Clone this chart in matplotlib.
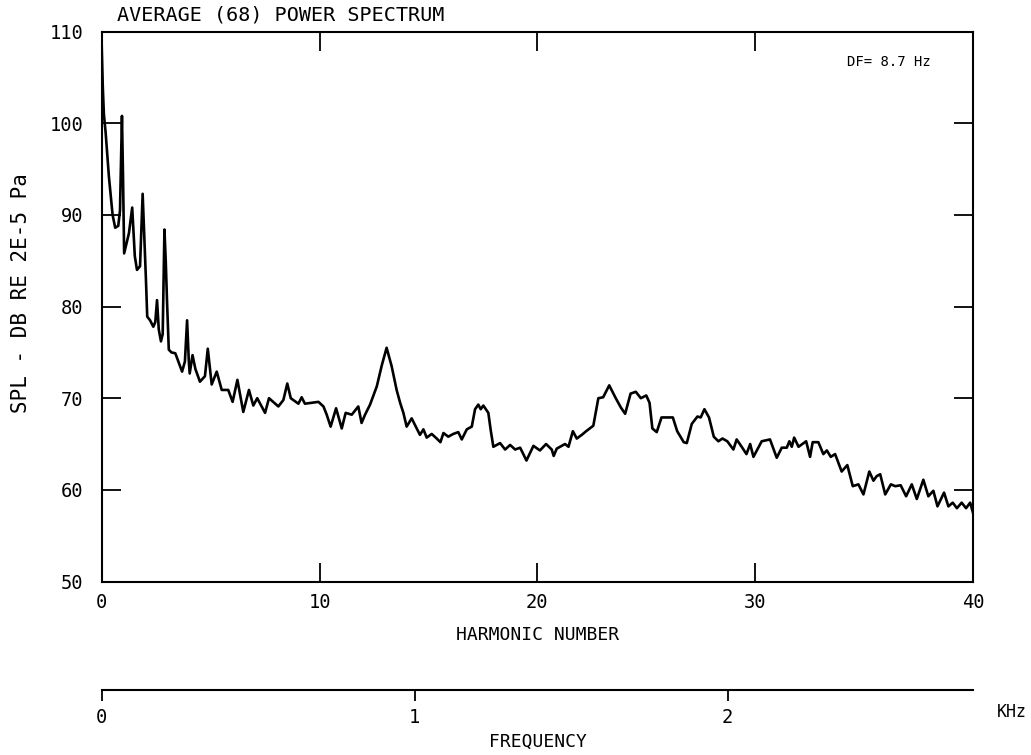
import numpy as np
import matplotlib.pyplot as plt

# Averaged power spectrum (harmonic number, SPL in dB)
harmonic = [
    0.00, 0.05, 0.10, 0.18, 0.33, 0.50, 0.62, 0.76, 0.84, 0.93, 0.98, 1.03,
    1.10, 1.25, 1.40, 1.52, 1.62, 1.76, 1.88, 1.95, 2.03, 2.09, 2.22, 2.37,
    2.46, 2.54, 2.62, 2.72, 2.80, 2.88, 2.94, 3.00, 3.08, 3.20, 3.38, 3.55,
    3.69, 3.82, 3.92, 4.00, 4.04, 4.17, 4.30, 4.51, 4.74, 4.87, 5.05, 5.28,
    5.51, 5.81, 6.01, 6.23, 6.50, 6.76, 6.96, 7.14, 7.50, 7.68, 8.11, 8.34,
    8.52, 8.68, 9.03, 9.18, 9.33, 9.95, 10.18, 10.33, 10.51, 10.76, 11.02, 11.20,
    11.48, 11.78, 11.93, 12.09, 12.32, 12.63, 12.86, 13.08, 13.31, 13.54, 13.70, 13.85,
    14.00, 14.23, 14.46, 14.61, 14.77, 14.92, 15.15, 15.38, 15.55, 15.69, 15.91, 16.14,
    16.37, 16.53, 16.76, 16.99, 17.14, 17.29, 17.40, 17.52, 17.75, 17.86, 17.98, 18.29,
    18.52, 18.75, 18.98, 19.21, 19.50, 19.82, 20.12, 20.40, 20.66, 20.75, 20.89, 21.27,
    21.43, 21.63, 21.81, 22.04, 22.24, 22.57, 22.80, 23.02, 23.30, 23.60, 23.83, 24.03,
    24.28, 24.52, 24.75, 25.00, 25.15, 25.28, 25.48, 25.70, 25.95, 26.22, 26.42, 26.72,
    26.86, 27.09, 27.35, 27.50, 27.67, 27.88, 28.10, 28.31, 28.50, 28.72, 29.00, 29.15,
    29.38, 29.60, 29.77, 29.92, 30.30, 30.68, 30.99, 31.22, 31.45, 31.57, 31.68, 31.79,
    31.99, 32.34, 32.52, 32.64, 32.90, 33.13, 33.29, 33.47, 33.67, 33.97, 34.23, 34.48,
    34.74, 34.97, 35.24, 35.43, 35.58, 35.74, 35.97, 36.23, 36.43, 36.68, 36.93, 37.19,
    37.42, 37.72, 37.95, 38.18, 38.37, 38.67, 38.87, 39.07, 39.26, 39.48, 39.68, 39.87,
    40.00,
]
spl = [
    108.5, 104.0, 101.0, 99.0, 94.2, 90.0, 88.6, 88.8, 90.5, 100.8, 94.0, 85.8,
    86.5, 88.0, 90.8, 85.5, 84.0, 84.4, 92.3, 88.0, 83.0, 78.9, 78.5, 77.8,
    78.3, 80.7, 77.5, 76.2, 77.0, 88.4, 85.0, 80.5, 75.3, 75.0, 74.9, 73.8,
    72.9, 74.0, 78.5, 74.0, 72.7, 74.7, 73.2, 71.8, 72.4, 75.4, 71.5, 72.9,
    70.9, 70.9, 69.6, 72.0, 68.5, 70.9, 69.2, 70.0, 68.4, 70.0, 69.1, 69.8,
    71.6, 70.0, 69.4, 70.1, 69.4, 69.6, 69.1, 68.2, 66.9, 68.9, 66.7, 68.4,
    68.2, 69.1, 67.3, 68.2, 69.3, 71.3, 73.6, 75.5, 73.5, 70.9, 69.5, 68.4,
    66.9, 67.8, 66.7, 66.0, 66.6, 65.7, 66.1, 65.6, 65.2, 66.2, 65.8, 66.1,
    66.3, 65.5, 66.6, 66.9, 68.8, 69.3, 68.8, 69.2, 68.4, 66.5, 64.7, 65.1,
    64.4, 64.9, 64.4, 64.6, 63.2, 64.8, 64.3, 65.0, 64.4, 63.7, 64.5, 65.0,
    64.7, 66.4, 65.6, 66.0, 66.4, 67.0, 70.0, 70.1, 71.4, 70.0, 69.0, 68.3,
    70.5, 70.7, 70.0, 70.3, 69.5, 66.7, 66.3, 67.9, 67.9, 67.9, 66.4, 65.2,
    65.1, 67.2, 68.0, 67.9, 68.8, 67.9, 65.8, 65.3, 65.6, 65.3, 64.4, 65.5,
    64.7, 63.9, 65.0, 63.6, 65.3, 65.5, 63.5, 64.6, 64.6, 65.3, 64.7, 65.7,
    64.7, 65.3, 63.6, 65.2, 65.2, 63.9, 64.3, 63.6, 63.9, 62.0, 62.7, 60.4,
    60.6, 59.5, 62.0, 61.0, 61.5, 61.7, 59.5, 60.6, 60.4, 60.5, 59.3, 60.6,
    59.0, 61.1, 59.3, 59.9, 58.2, 59.7, 58.2, 58.6, 58.0, 58.6, 58.0, 58.6,
    57.5,
]

harmonic_ticks = [0, 10, 20, 30, 40]
spl_ticks = [50, 60, 70, 80, 90, 100, 110]
freq_ticks = [0, 1, 2]
fundamental_khz = 0.0696   # one harmonic step on the frequency scale

W, H = 1031, 755
plt.rcParams["font.family"] = "DejaVu Sans Mono"

fig = plt.figure(figsize=(W / 100, H / 100), dpi=100)

# main spectrum axes, placed in pixel units
left, right, top, bottom = 101.7, 973.0, 31.6, 581.5
ax = fig.add_axes([left / W, 1 - bottom / H, (right - left) / W, (bottom - top) / H])
ax.plot(harmonic, spl, color="black", lw=1.9)
ax.set_xlim(0, 40)
ax.set_ylim(50, 110)
ax.set_xticks(harmonic_ticks)
ax.set_yticks(spl_ticks)
ax.tick_params(direction="in", length=14, width=1.3, top=True, right=True,
               labelsize=13.5, colors="black")
ax.tick_params(axis="y", pad=13)
ax.tick_params(axis="x", pad=8)
for s in ax.spines.values():
    s.set_linewidth(1.5)
ax.set_xlabel("HARMONIC NUMBER", fontsize=13, labelpad=10)
ax.set_ylabel("SPL - DB RE 2E-5 Pa", fontsize=15)
# x of the label coords is the right edge of the rotated text
ax.yaxis.set_label_coords((31 - left) / (right - left), (bottom - 293) / (bottom - top))
fig.text(117 / W, 1 - 15 / H, "AVERAGE (68) POWER SPECTRUM", fontsize=14.5,
         ha="left", va="center")
ax.text(0.952, 0.945, "DF= 8.7 Hz", transform=ax.transAxes,
        fontsize=10, ha="right", va="center")

# frequency scale under the plot
fy = 690
fax = fig.add_axes([left / W, 1 - fy / H, (right - left) / W, 0.0001])
fax.set_xlim(0, 40 * fundamental_khz)
fax.set_xticks(freq_ticks)
fax.set_yticks([])
for side in ["top", "left", "right"]:
    fax.spines[side].set_visible(False)
fax.spines["bottom"].set_linewidth(1.5)
fax.tick_params(axis="x", direction="out", length=8, width=1.3,
                labelsize=13.5, pad=5)
fig.text(997 / W, 1 - 712 / H, "KHz", fontsize=12, ha="left", va="center")
fig.text(538 / W, 1 - 742 / H, "FREQUENCY", fontsize=13, ha="center", va="center")

fig.savefig("out.png", dpi=100)
